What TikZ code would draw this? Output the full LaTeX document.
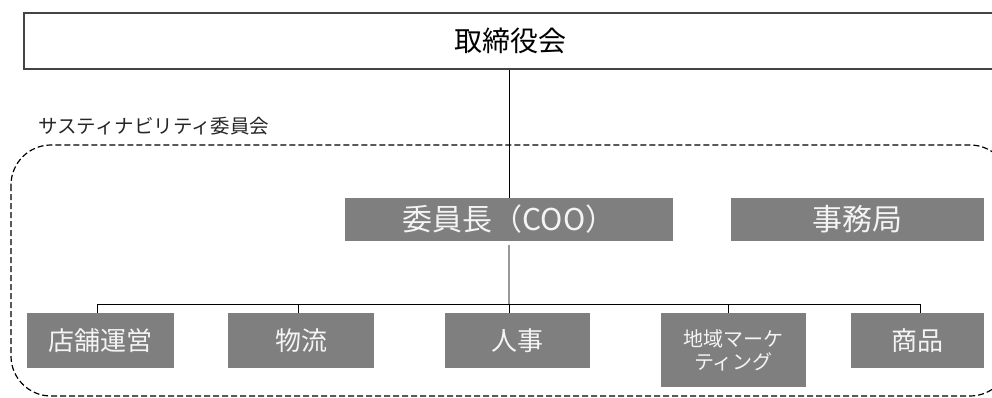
\documentclass[tikz,border=0pt]{standalone}
\usepackage{fontspec}
\setmainfont{Noto Sans CJK JP}
\definecolor{boxgray}{HTML}{7F7F7F}
\definecolor{framegray}{HTML}{444444}
\definecolor{txtwhite}{HTML}{F4F4F4}
\begin{document}
\begin{tikzpicture}[x=1pt,y=-1pt,
  graybox/.style={fill=boxgray, text=txtwhite, inner sep=0pt, align=center},
  bigfont/.style={font=\fontsize{28}{30}\selectfont},
  chairfont/.style={font=\fontsize{30}{32}\selectfont},
  midfont/.style={font=\fontsize{26}{28}\selectfont},
  smallfont/.style={font=\fontsize{20}{23}\selectfont},
  conn/.style={draw=black, line width=1pt}
]
\useasboundingbox (0,0) rectangle (992,398);
\clip (0,0) rectangle (992,398);

% board
\node[draw=framegray, line width=1.5pt, minimum width=972pt, minimum height=56pt, inner sep=0pt, bigfont] (board) at (510,41) {取締役会};

% committee label
\node[anchor=west, inner sep=0pt, text=black!85, font=\fontsize{19.5}{21}\selectfont] (lbl) at (38,126) {サスティナビリティ委員会};

% dashed frame
\draw[dashed, dash pattern=on 6pt off 3pt, line width=1.2pt, rounded corners=40pt] (11,145) rectangle (1010,396);

% chair and secretariat
\node[graybox, chairfont, minimum width=328pt, minimum height=43pt] (chair) at (509,219.5) {委員長（COO）};
\node[graybox, chairfont, minimum width=253pt, minimum height=43pt] (sec) at (857.5,219.5) {事務局};

% departments
\node[graybox, midfont, minimum width=147pt, minimum height=55pt] (shop) at (100.5,340.5) {店舗運営};
\node[graybox, midfont, minimum width=146pt, minimum height=55pt] (logi) at (301,340.5) {物流};
\node[graybox, midfont, minimum width=145pt, minimum height=55pt] (hr) at (517.5,340.5) {人事};
\node[graybox, smallfont, minimum width=145pt, minimum height=74pt] (mkt) at (733.5,350) {地域マーケ\\ティング};
\node[graybox, midfont, minimum width=133pt, minimum height=55pt] (prod) at (917.5,340.5) {商品};

\coordinate (bus) at (0,304);

% connectors
\draw[conn] (chair.north |- board.south) -- (chair.north);
\draw[draw=black!40, line width=1.2pt] ([yshift=-4pt]chair.south) -- (chair.south |- bus);
\draw[conn] ([xshift=-3pt]shop.north |- bus) -- ([xshift=3pt]prod.north |- bus);
\draw[conn] ([xshift=-3pt]shop.north |- bus) -- ([xshift=-3pt]shop.north);
\draw[conn] ([xshift=-3pt]logi.north |- bus) -- ([xshift=-3pt]logi.north);
\draw[conn] (chair.south |- bus) -- (chair.south |- hr.north);
\draw[conn] ([xshift=-5pt]mkt.north |- bus) -- ([xshift=-5pt]mkt.north);
\draw[conn] ([xshift=3pt]prod.north |- bus) -- ([xshift=3pt]prod.north);
\end{tikzpicture}
\end{document}
